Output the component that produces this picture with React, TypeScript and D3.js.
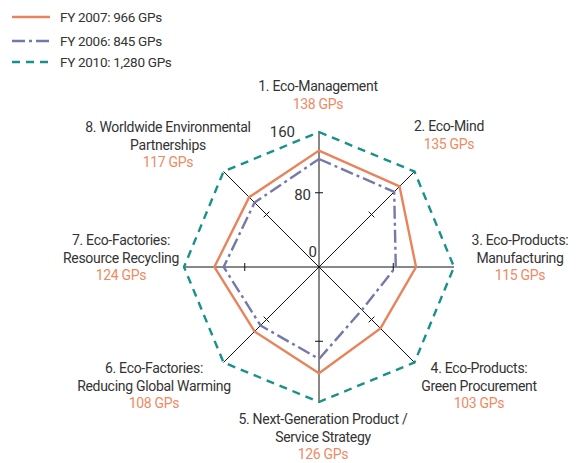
import React from "react";
import * as d3 from "d3";

const categories: string[][] = [
  ["1. Eco-Management"],
  ["2. Eco-Mind"],
  ["3. Eco-Products:", "Manufacturing"],
  ["4. Eco-Products:", "Green Procurement"],
  ["5. Next-Generation Product /", "Service Strategy"],
  ["6. Eco-Factories:", "Reducing Global Warming"],
  ["7. Eco-Factories:", "Resource Recycling"],
  ["8. Worldwide Environmental", "Partnerships"],
];
const fy2007 = [138, 135, 115, 103, 126, 108, 124, 117];
const fy2006 = [128, 126, 91, 72, 109, 98, 113, 108];
const fy2010 = [160, 160, 160, 160, 160, 160, 160, 160];
const seriesNames = ["FY 2007: 966 GPs", "FY 2006: 845 GPs", "FY 2010: 1,280 GPs"];
const tickLabels = ["0", "80", "160"];
const tickPositions = [0, 88, 160];

const W = 576;
const H = 463;
const cx = 319;
const cy = 267;
const R = 135;

// label anchor placement per axis: [x, y of first baseline]
const labelPos: [number, number][] = [
  [318, 91],
  [449, 131],
  [520, 245],
  [479, 373],
  [323, 424],
  [154, 373],
  [121, 245],
  [168, 132],
];

const ORANGE = "#E8845C";
const ORANGE_TXT = "#EE8A62";
const BLUE = "#7579A9";
const TEAL = "#17918A";
const TXT = "#333333";
const FONT = "Roboto, 'Liberation Sans', sans-serif";

export default function App() {
  const r = d3.scaleLinear().domain([0, 160]).range([0, R]);
  const n = categories.length;
  const angle = (i: number) => (i * 2 * Math.PI) / n;
  const pt = (i: number, v: number): [number, number] => [
    cx + r(v) * Math.sin(angle(i)),
    cy - r(v) * Math.cos(angle(i)),
  ];
  const line = d3.lineRadial<number>()
    .angle((_, i) => angle(i))
    .radius((d) => r(d))
    .curve(d3.curveLinearClosed);

  const series = [
    { data: fy2010, color: TEAL, dash: "8,6", width: 2.4 },
    { data: fy2006, color: BLUE, dash: "13,4,3,4", width: 2.4 },
    { data: fy2007, color: ORANGE, dash: "", width: 2.4 },
  ];
  const legend = [
    { name: seriesNames[0], color: ORANGE, dash: "" },
    { name: seriesNames[1], color: BLUE, dash: "13,4,3,4" },
    { name: seriesNames[2], color: TEAL, dash: "8,6" },
  ];
  const legendY = [17, 41, 62];

  return (
    <svg width={W} height={H} style={{ position: "absolute", left: 0, top: 0 }} fontFamily={FONT}>
      <rect width={W} height={H} fill="#fff" />
      {/* axes */}
      {categories.map((_, i) => {
        const [x2, y2] = pt(i, 160);
        return <line key={"ax" + i} x1={cx} y1={cy} x2={x2} y2={y2} stroke="#111" strokeWidth={1} />;
      })}
      {/* tick marks */}
      {categories.map((_, i) => {
        const [tx, ty] = pt(i, tickPositions[1]);
        const a = angle(i);
        const px = Math.cos(a) * 4;
        const py = Math.sin(a) * 4;
        return (
          <line key={"tk" + i} x1={tx - px} y1={ty - py} x2={tx + px} y2={ty + py} stroke="#111" strokeWidth={1} />
        );
      })}
      {/* series */}
      {series.map((s, k) => (
        <path
          key={"s" + k}
          d={line(s.data) || ""}
          transform={`translate(${cx},${cy})`}
          fill="none"
          stroke={s.color}
          strokeWidth={s.width}
          strokeDasharray={s.dash || undefined}
          strokeLinejoin="miter"
        />
      ))}
      {/* tick labels */}
      {tickLabels.map((t, k) => {
        const y = cy - r(tickPositions[k]);
        const dx = [-2, -8, -24][k];
        const dy = [-10, 7, 5][k];
        return (
          <text key={"tl" + k} x={cx + dx} y={y + dy} textAnchor="end" fontSize={15} fill={TXT}>
            {t}
          </text>
        );
      })}
      {/* category labels */}
      {categories.map((lines, i) => {
        const [x, y] = labelPos[i];
        return (
          <text key={"cl" + i} x={x} y={y} textAnchor="middle" fontSize={14} fill={TXT} letterSpacing={-0.3}>
            {lines.map((l, j) => (
              <tspan key={j} x={x} y={y + j * 17.5}>{l}</tspan>
            ))}
            <tspan x={x} y={y + lines.length * 17.5} fill={ORANGE_TXT}>{`${fy2007[i]} GPs`}</tspan>
          </text>
        );
      })}
      {/* legend */}
      {legend.map((l, k) => (
        <g key={"lg" + k}>
          <line x1={12} x2={50} y1={legendY[k]} y2={legendY[k]} stroke={l.color} strokeWidth={2.4}
            strokeDasharray={l.dash || undefined} />
          <text x={60} y={legendY[k] + 5} fontSize={13.5} fill={TXT} letterSpacing={-0.3}>{l.name}</text>
        </g>
      ))}
    </svg>
  );
}
